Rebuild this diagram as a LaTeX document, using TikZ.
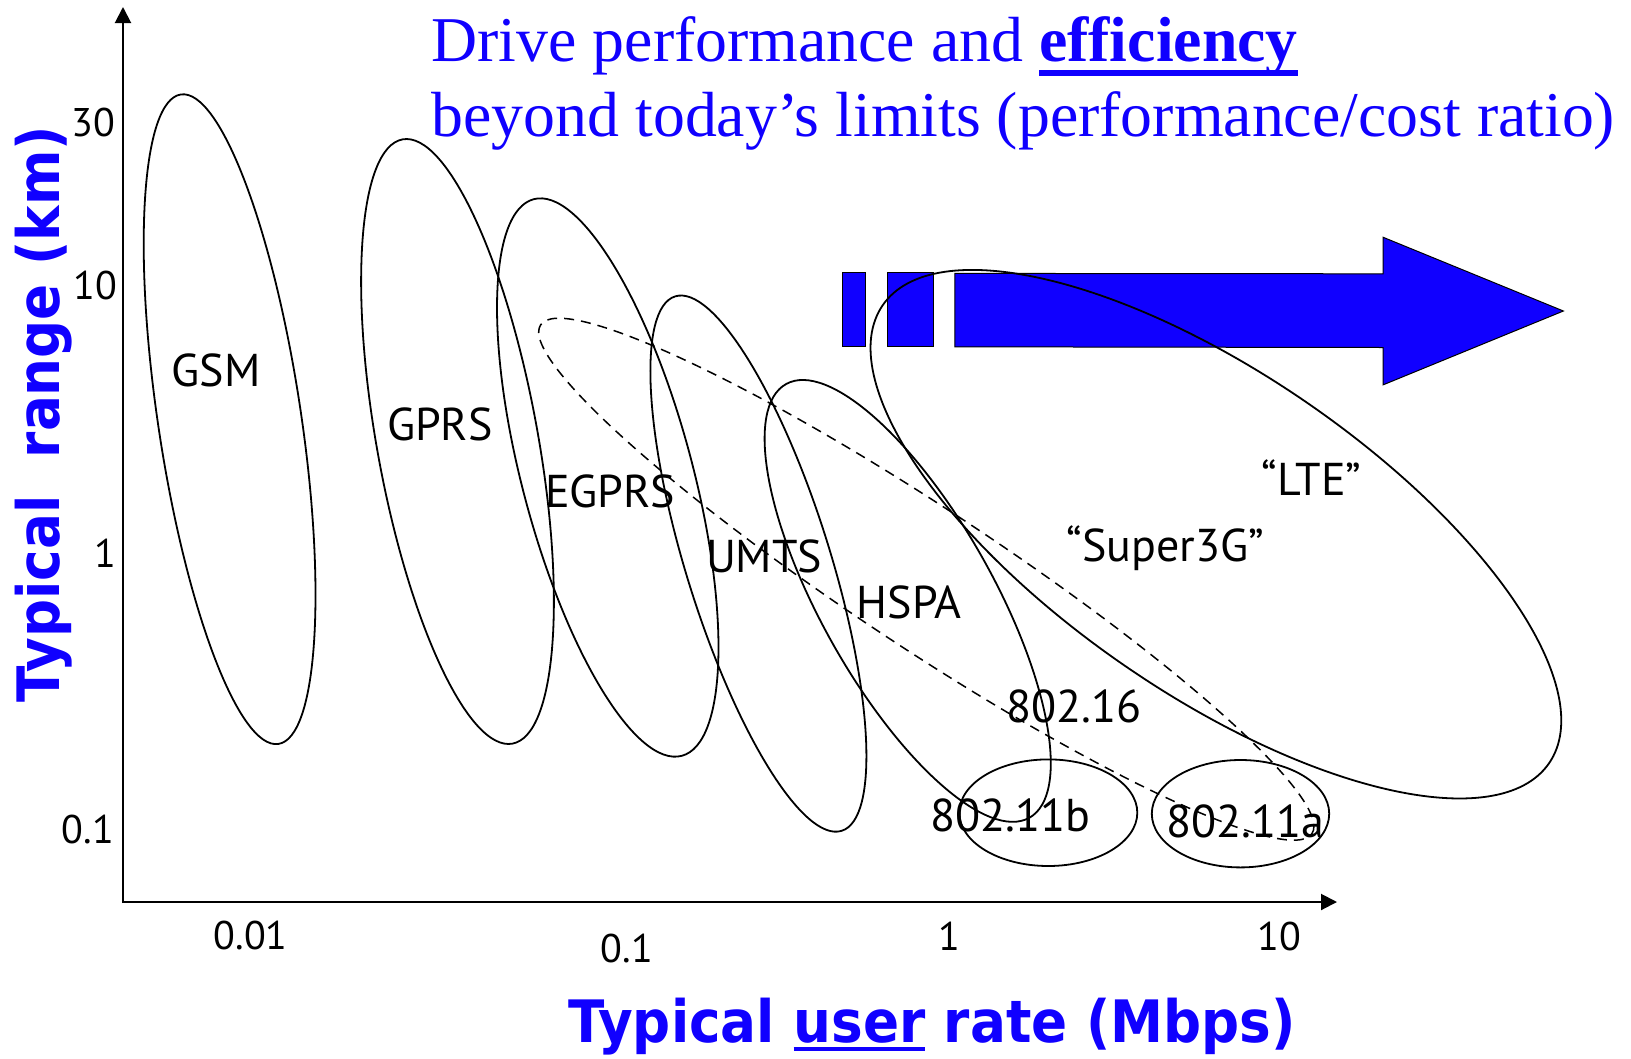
\documentclass[tikz,border=0pt]{standalone}
\usepackage{fontspec}
\setmainfont{Liberation Serif}
\newfontfamily\lblfont{PT Sans}
\newfontfamily\axfont[FakeStretch=0.91]{DejaVu Sans Bold}
\usetikzlibrary{arrows.meta}
\definecolor{vivid}{RGB}{16,0,255}
% underline with a rule placed #1 below the baseline, #2 thick
\newsavebox\ulbox
\newcommand\ulbar[3]{\sbox\ulbox{#3}\rlap{\rule[-#1]{\wd\ulbox}{#2}}\usebox\ulbox}

\begin{document}
\begin{tikzpicture}[x=1pt, y=-1pt,
  every node/.style={inner sep=0pt, outer sep=0pt},
  axisline/.style={line width=2pt, -{Triangle[width=16pt,length=16pt]}},
  zone/.style={draw=black, line width=1.8pt},
  dashzone/.style={draw=black, line width=1.5pt, dash pattern=on 10pt off 7pt},
  block/.style={fill=vivid, draw=black, line width=1pt},
  lbl/.style={font=\lblfont\fontsize{46}{50}\selectfont, anchor=base west},
  tick/.style={font=\lblfont\fontsize{40}{44}\selectfont, anchor=base},
  axtitle/.style={font=\axfont\fontsize{58.5}{62}\selectfont, text=vivid, anchor=base},
  headline/.style={font=\fontsize{63.8}{75}\selectfont, text=vivid, anchor=base west}]

\useasboundingbox (0,0) rectangle (1631,1058);

% axes
\coordinate (O) at (123,903);
\coordinate (ytop) at (123,7);
\coordinate (xend) at (1337,902);
\draw[axisline] (O) -- (ytop);
\draw[axisline] (123,902) -- (xend);

% tick labels
\node[tick] (y30) at (93,136.7) {30};
\node[tick] (y10) at (95,299) {10};
\node[tick] (y1) at (105,567) {1};
\node[tick] (y01) at (88,843.4) {0.1};
\node[tick] (x001) at (250.8,949) {0.01};
\node[tick] (x01) at (627,962) {0.1};
\node[tick] (x1) at (949.7,950) {1};
\node[tick] (x10) at (1279.4,950) {10};

% axis titles
\node[axtitle, rotate=90] (ytitle) at (59.3,414) {Typical\ \ range (km)};
\node[axtitle] (xtitle) at (932,1042.7) {Typical \ulbar{8pt}{3.4pt}{user} rate (Mbps)};

% headline
\node[headline] (head1) at (431.6,61.7) {Drive performance and \textbf{\ulbar{14pt}{5.5pt}{efficiency}}};
\node[headline] (head2) at (431.6,136.7) {beyond today’s limits (performance/cost ratio)};

% blue progress arrow
\draw[block] (842.6,272.5) rectangle (865.4,346.6);
\draw[block] (887.3,272.5) rectangle (933,346.6);
\draw[block] (954.9,273.4) -- (1383,273.8) -- (1383,237.2) -- (1563.4,311)
  -- (1383,384.9) -- (1383,347.5) -- (954.9,346.8) -- cycle;

% technology regions
\draw[zone] (229.6,419.2) circle [x radius=328.4pt, y radius=71.5pt, rotate=-81.46];
\draw[zone] (457.5,441.5) circle [x radius=307.1pt, y radius=80.5pt, rotate=-79.7];
\draw[zone] (607.75,477.5) circle [x radius=288pt, y radius=85.2pt, rotate=-75.1];
\draw[zone] (758.4,563.6) circle [x radius=279.9pt, y radius=72.1pt, rotate=-72.7];
\draw[zone] (907.7,600.9) circle [x radius=248.65pt, y radius=86.3pt, rotate=-60.7];
\draw[zone] (1215.9,534.2) circle [x radius=404.3pt, y radius=160pt, rotate=-34.5];
\draw[dashzone] (926.3,579.2) circle [x radius=462pt, y radius=69.9pt, rotate=-33.4];
\draw[zone] (1048.3,812.7) circle [x radius=89pt, y radius=53.3pt];
\draw[zone] (1240.5,813.7) circle [x radius=88.7pt, y radius=53.7pt];

% region labels
\node[lbl] (gsm) at (171.7,386) {GSM};
\node[lbl] (gprs) at (387,440) {GPRS};
\node[lbl] (egprs) at (545,507.3) {EGPRS};
\node[lbl] (umts) at (706,572.7) {UMTS};
\node[lbl] (hspa) at (856.7,618.3) {HSPA};
\node[lbl] (super) at (1066.7,561.7) {“Super3G”};
\node[lbl] (lte) at (1261.7,495) {“LTE”};
\node[lbl] (wimax) at (1006,722.7) {802.16};
\node[lbl] (wlanb) at (930,831.7) {802.11b};
\node[lbl] (wlana) at (1166.7,837.3) {802.11a};
\end{tikzpicture}
\end{document}
